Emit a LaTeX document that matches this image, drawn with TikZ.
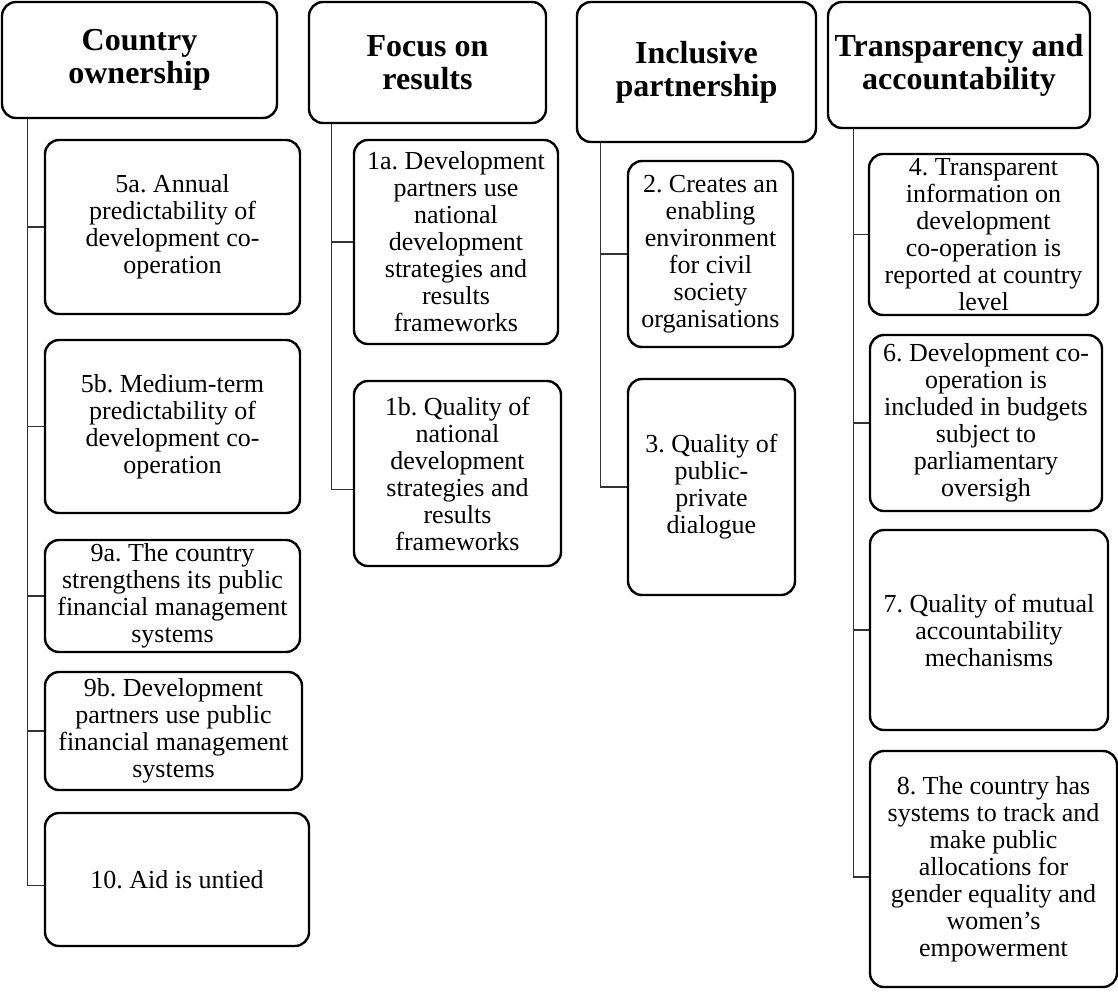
\documentclass[tikz,border=0pt]{standalone}
\usepackage{fontspec}
\setmainfont{Liberation Serif}
\frenchspacing
\begin{document}
\begin{tikzpicture}[x=1pt, y=-1pt,
  header/.style={draw, line width=2.4pt, rounded corners=14pt, align=center, inner sep=0pt, font=\fontsize{32}{33}\selectfont\bfseries},
  item/.style={draw, line width=2.4pt, rounded corners=14pt, align=center, inner sep=0pt, font=\fontsize{26}{27}\selectfont},
  link/.style={draw=black!80, line width=1.3pt}]
\useasboundingbox (0,0) rectangle (1118,991);
% headers
\node[header, minimum width=275pt, minimum height=116pt] (co) at (139.5,60) {Country\\ownership};
\node[header, minimum width=237pt, minimum height=121pt] (fr) at (427.5,62.5) {Focus on\\results};
\node[header, minimum width=239pt, minimum height=140pt] (ip) at (696.5,72) {Inclusive\\partnership};
\node[header, minimum width=262pt, minimum height=126pt] (ta) at (959,65) {Transparency and\\accountability};
% country ownership
\node[item, minimum width=255pt, minimum height=174pt] (i5a) at (172.5,227) {5a. Annual\\predictability of\\development co-\\operation};
\node[item, minimum width=255pt, minimum height=173pt] (i5b) at (172.5,426.5) {5b. Medium-term\\predictability of\\development co-\\operation};
\node[item, minimum width=255pt, minimum height=112pt] (i9a) at (172.5,596) {9a. The country\\strengthens its public\\financial management\\systems};
\node[item, minimum width=257pt, minimum height=118pt] (i9b) at (173.5,731) {9b. Development\\partners use public\\financial management\\systems};
\node[item, minimum width=264pt, minimum height=133pt] (i10) at (177,879.5) {10. Aid is untied};
% focus on results
\node[item, minimum width=204pt, minimum height=204pt] (i1a) at (456,242) {1a. Development\\partners use\\national\\development\\strategies and\\results\\frameworks};
\node[item, minimum width=207pt, minimum height=185pt] (i1b) at (457.5,473.5) {1b. Quality of\\national\\development\\strategies and\\results\\frameworks};
% inclusive partnership
\node[item, minimum width=165pt, minimum height=186pt] (i2) at (710.5,254) {2. Creates an\\enabling\\environment\\for civil\\society\\organisations};
\node[item, minimum width=167pt, minimum height=216pt] (i3) at (711.5,487) {3. Quality of\\public-\\private\\dialogue};
% transparency and accountability
\node[item, minimum width=229pt, minimum height=161pt] (i4) at (983.5,234.5) {4. Transparent\\information on\\development\\co-operation is\\reported at country\\level};
\node[item, minimum width=232pt, minimum height=176pt] (i6) at (986,423) {6. Development co-\\operation is\\included in budgets\\subject to\\parliamentary\\oversigh};
\node[item, minimum width=238pt, minimum height=200pt] (i7) at (989,630) {7. Quality of mutual\\accountability\\mechanisms};
\node[item, minimum width=247pt, minimum height=236pt] (i8) at (993.5,869) {8. The country has\\systems to track and\\make public\\allocations for\\gender equality and\\women’s\\empowerment};
% links
\foreach \c in {i5a,i5b,i9a,i9b}
  \draw[link] ([xshift=27pt]co.south west) |- (\c.west);
\draw[link] ([xshift=27pt]co.south west) |- ([yshift=-6pt]i10.west);
\draw[link] ([xshift=24pt]fr.south west) |- (i1a.west);
\draw[link] ([xshift=24pt]fr.south west) |- ([yshift=-16pt]i1b.west);
\foreach \c in {i2,i3}
  \draw[link] ([xshift=25pt]ip.south west) |- (\c.west);
\foreach \c in {i4,i6,i7}
  \draw[link] ([xshift=27pt]ta.south west) |- (\c.west);
\draw[link] ([xshift=27pt]ta.south west) |- ([yshift=-8pt]i8.west);
\end{tikzpicture}
\end{document}
